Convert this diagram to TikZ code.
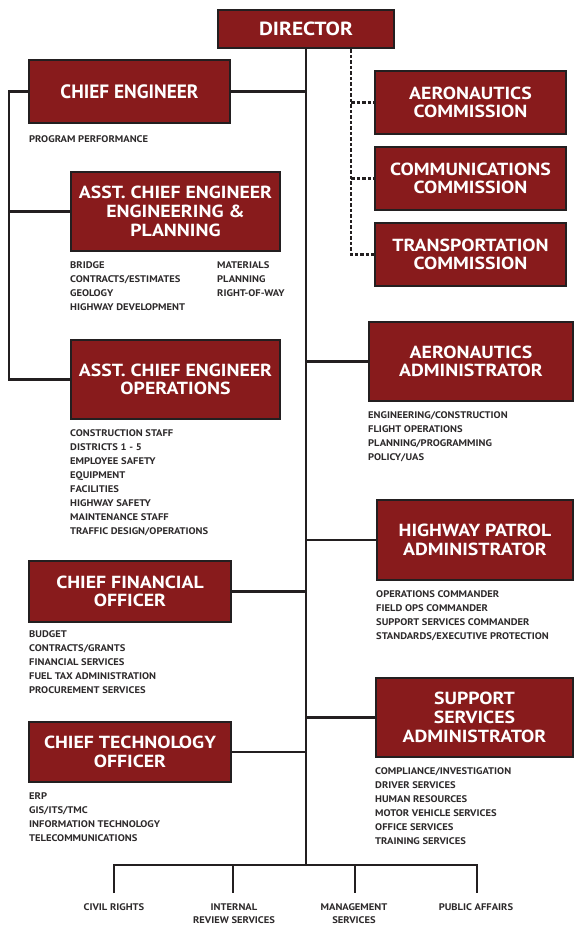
\documentclass[tikz,border=0pt]{standalone}
\usepackage{fontspec}
\setmainfont{PT Sans}
\newfontfamily\titlefont{PT Sans}[FakeStretch=1.13]
\newfontfamily\itemfont{PT Sans}[FakeStretch=1.1]
\definecolor{boxred}{RGB}{136,27,28}
\definecolor{linec}{RGB}{35,31,32}
\definecolor{itemc}{RGB}{45,42,43}
\tikzset{
  box/.style={draw=linec, line width=2.6pt, fill=boxred, text=white, align=center, inner sep=0pt,
              font=\titlefont\fontsize{17.5}{18.7}\selectfont\bfseries},
  bigbox/.style={box, font=\titlefont\fontsize{19}{20}\selectfont\bfseries},
  cebox/.style={box, font=\fontsize{19.3}{20}\selectfont\bfseries},
  conn/.style={draw=linec, line width=2.6pt},
  dconn/.style={draw=linec, line width=2.4pt, dash pattern=on 3.5pt off 2pt},
  item/.style={text=itemc, font=\itemfont\fontsize{9.6}{14}\selectfont\bfseries, inner sep=0pt, anchor=base west},
  lab/.style={item, anchor=base},
}
\begin{document}
\begin{tikzpicture}[x=1pt,y=-1pt]
\useasboundingbox (0,0) rectangle (575,925);

% boxes
\node[bigbox, minimum width=176pt, minimum height=38pt] (dir) at (306,29) {DIRECTOR};
\node[cebox, minimum width=201pt, minimum height=63pt] (ce) at (129.5,91.5) {CHIEF ENGINEER};
\node[box, minimum width=191pt, minimum height=63pt] (ac) at (470.5,102.5) {AERONAUTICS\\COMMISSION};
\node[box, minimum width=191pt, minimum height=63pt] (cc) at (470.5,178.5) {COMMUNICATIONS\\COMMISSION};
\node[box, minimum width=191pt, minimum height=63pt] (tc) at (470.5,254.5) {TRANSPORTATION\\COMMISSION};
\node[box, minimum width=209pt, minimum height=79pt] (ep) at (175.5,211.5) {ASST. CHIEF ENGINEER\\ENGINEERING \&\\PLANNING};
\node[box, minimum width=209pt, minimum height=79pt] (ops) at (175.5,379.5) {ASST. CHIEF ENGINEER\\OPERATIONS};
\node[box, minimum width=204pt, minimum height=79pt] (aa) at (471,361.5) {AERONAUTICS\\ADMINISTRATOR};
\node[box, minimum width=196pt, minimum height=80pt] (hp) at (475,540) {HIGHWAY PATROL\\ADMINISTRATOR};
\node[box, minimum width=202pt, minimum height=61pt] (cfo) at (130,591.5) {CHIEF FINANCIAL\\OFFICER};
\node[box, minimum width=202pt, minimum height=60pt] (cto) at (130,752) {CHIEF TECHNOLOGY\\OFFICER};
\node[box, minimum width=197pt, minimum height=79pt] (ss) at (474.5,717.5) {SUPPORT\\SERVICES\\ADMINISTRATOR};

% item lists
\node[item] (ce1) at (29,142.5) {PROGRAM PERFORMANCE};
\foreach \t [count=\i] in {BRIDGE, CONTRACTS/ESTIMATES, GEOLOGY, HIGHWAY DEVELOPMENT}
  \node[item] (epa\i) at (70,{268.5+14*(\i-1)}) {\t};
\foreach \t [count=\i] in {MATERIALS, PLANNING, RIGHT-OF-WAY}
  \node[item] (epb\i) at (217,{268.5+14*(\i-1)}) {\t};
\foreach \t [count=\i] in {CONSTRUCTION STAFF, DISTRICTS 1 - 5, EMPLOYEE SAFETY, EQUIPMENT, FACILITIES, HIGHWAY SAFETY, MAINTENANCE STAFF, TRAFFIC DESIGN/OPERATIONS}
  \node[item] (opi\i) at (70,{436.5+14*(\i-1)}) {\t};
\foreach \t [count=\i] in {ENGINEERING/CONSTRUCTION, FLIGHT OPERATIONS, PLANNING/PROGRAMMING, POLICY/UAS}
  \node[item] (aai\i) at (368,{418.5+14*(\i-1)}) {\t};
\foreach \t [count=\i] in {OPERATIONS COMMANDER, FIELD OPS COMMANDER, SUPPORT SERVICES COMMANDER, STANDARDS/EXECUTIVE PROTECTION}
  \node[item] (hpi\i) at (376,{597.5+14*(\i-1)}) {\t};
\foreach \t [count=\i] in {BUDGET, CONTRACTS/GRANTS, FINANCIAL SERVICES, FUEL TAX ADMINISTRATION, PROCUREMENT SERVICES}
  \node[item] (cfi\i) at (29,{637.5+14*(\i-1)}) {\t};
\foreach \t [count=\i] in {ERP, GIS/ITS/TMC, INFORMATION TECHNOLOGY, TELECOMMUNICATIONS}
  \node[item] (cti\i) at (29,{799.5+14*(\i-1)}) {\t};
\foreach \t [count=\i] in {COMPLIANCE/INVESTIGATION, DRIVER SERVICES, HUMAN RESOURCES, MOTOR VEHICLE SERVICES, OFFICE SERVICES, TRAINING SERVICES}
  \node[item] (ssi\i) at (375,{774.5+14*(\i-1)}) {\t};

% bottom labels
\node[lab] (cr) at (114,910.5) {CIVIL RIGHTS};
\node[lab] (ir1) at (234,910.5) {INTERNAL};
\node[lab] (ir2) at (234,923.5) {REVIEW SERVICES};
\node[lab] (ms1) at (354,910.5) {MANAGEMENT};
\node[lab] (ms2) at (354,923.5) {SERVICES};
\node[lab] (pa) at (476,910.5) {PUBLIC AFFAIRS};

% coordinates
\coordinate (mx) at (306,865);
\coordinate (bl) at (114,865);
\coordinate (br) at (477,865);
\coordinate (d1) at (114,893);
\coordinate (d2) at (233,893);
\coordinate (d3) at (355,893);
\coordinate (d4) at (477,893);
\coordinate (lb) at (9,89);
\coordinate (dx) at (351,0);

% solid connectors
\draw[conn] (dir.south) -- (mx);
\draw[conn] (ce.east) -- (ce.east -| mx);
\draw[conn] (aa.west) -- (aa.west -| mx);
\draw[conn] (hp.west) -- (hp.west -| mx);
\draw[conn] (ss.west) -- (ss.west -| mx);
\draw[conn] (cfo.east) -- (cfo.east -| mx);
\draw[conn] (cto.east) -- (cto.east -| mx);
\draw[conn] (ce.west) -- (ce.west -| lb) -- (lb |- ops.west) -- (ops.west);
\draw[conn] (lb |- ep.west) -- (ep.west);
\draw[conn] (d1) -- (bl) -- (br) -- (d4);
\draw[conn] (d2 |- bl) -- (d2);
\draw[conn] (d3 |- bl) -- (d3);

% dashed connectors
\draw[dconn] (dir.south -| dx) -- (dx |- tc.west) -- (tc.west);
\draw[dconn] (dx |- ac.west) -- (ac.west);
\draw[dconn] (dx |- cc.west) -- (cc.west);
\end{tikzpicture}
\end{document}
